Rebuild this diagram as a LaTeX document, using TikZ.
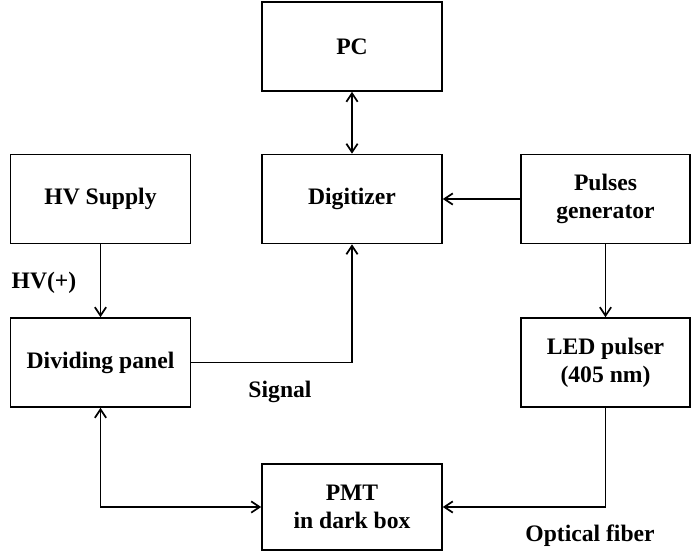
\documentclass[tikz,border=0pt]{standalone}
\usepackage{fontspec}
\setmainfont{Liberation Serif}
\usepackage{tikz}
\usetikzlibrary{arrows.meta,positioning}

\begin{document}
\begin{tikzpicture}[
    block/.style={draw=black, rectangle, inner sep=0pt,
                  minimum width=4.5cm, minimum height=2.225cm,
                  align=center, font=\fontsize{16.8}{20}\selectfont\bfseries,
                  line width=1.2pt},
    tag/.style={font=\fontsize{16.8}{20}\selectfont\bfseries, inner sep=0pt},
    flow/.style={-{Straight Barb[length=6pt,width=8pt]}, line width=1.2pt},
    dflow/.style={{Straight Barb[length=6pt,width=8pt]}-{Straight Barb[length=6pt,width=8pt]}, line width=1.2pt}
]
\useasboundingbox (0,0) rectangle (17.3,-13.775);

% Top and middle column
\node[block] (pc) at (8.8,-1.1625) {PC};
\node[block] (digitizer) at (8.8,-4.975) {Digitizer};

% Left column
\node[block] (hv) at (2.5125,-4.975) {HV Supply};
\node[block] (divider) at (2.5125,-9.0625) {Dividing panel};

% Right column
\node[block, minimum width=4.225cm] (pulses) at (15.1375,-4.975) {Pulses\\generator};
\node[block, minimum width=4.225cm] (led) at (15.1375,-9.0625) {LED pulser\\(405 nm)};

% Bottom
\node[block, minimum height=2.15cm] (pmt) at (8.8,-12.675) {PMT\\in dark box};

% Connections
\draw[dflow] (pc) -- (digitizer);
\draw[flow] (pulses) -- (digitizer);
\draw[flow] (hv) -- (divider);
\draw[flow] (pulses) -- (led);
\draw[flow] (divider.east) -| (digitizer.south);
\draw[flow] (led.south) |- (pmt.east);
\draw[dflow] (divider.south) |- (pmt.west);

% Labels
\node[tag] (hvtag) at (1.1,-7.075) {HV(+)};
\node[tag] (sigtag) at (7.0,-9.8) {Signal};
\node[tag] (fibertag) at (14.75,-13.4) {Optical fiber};

\end{tikzpicture}
\end{document}
